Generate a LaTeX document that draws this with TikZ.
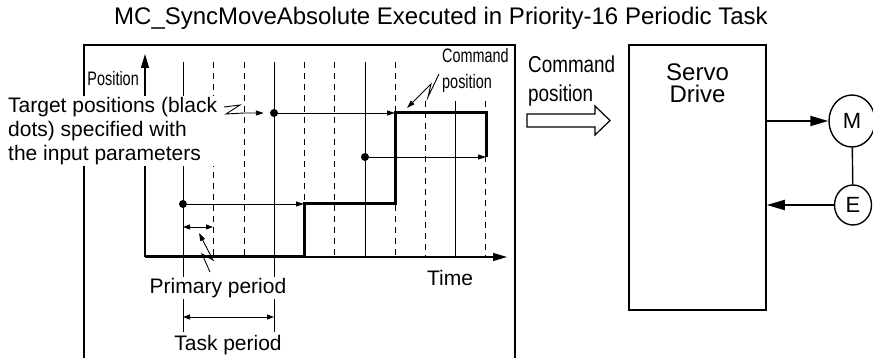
\documentclass[tikz,border=0pt]{standalone}
\usepackage{fontspec}
\setmainfont{Liberation Sans}
\newfontfamily\narrowfont[FakeStretch=0.74]{Liberation Sans}
\newfontfamily\semifont[FakeStretch=0.82]{Liberation Sans}
\usepackage{tikz}
\usetikzlibrary{arrows.meta,positioning,shapes.geometric}
\tikzset{
  thinar/.style={-{Triangle[length=8pt,width=5pt]},line width=0.9pt},
  dblar/.style={{Triangle[length=7pt,width=5pt]}-{Triangle[length=7pt,width=5pt]},line width=0.9pt},
  axis/.style={-{Triangle[length=14pt,width=8pt]},line width=1.3pt},
  bigar/.style={-{Triangle[length=18pt,width=10pt]},line width=1.8pt},
  frame/.style={line width=1.6pt},
  tickln/.style={line width=0.9pt},
  dashln/.style={line width=0.9pt,dash pattern=on 6pt off 5pt},
  cmdline/.style={line width=3pt},
  dot/.style={circle,fill,inner sep=0pt,minimum size=8pt},
  txt/.style={font=\fontsize{21}{24}\selectfont,inner sep=1pt},
  bigtxt/.style={font=\fontsize{24}{22}\selectfont,align=center,inner sep=0pt},
  smalltxt/.style={font=\narrowfont\fontsize{19.5}{22}\selectfont,inner sep=0pt},
  cmdtxt/.style={font=\semifont\fontsize{23}{26}\selectfont,inner sep=0pt},
  motor/.style={draw,ellipse,line width=1.4pt,inner sep=0pt,font=\fontsize{22}{24}\selectfont}
}

\begin{document}
\begin{tikzpicture}[x=1pt,y=-1pt]
\useasboundingbox (0,0) rectangle (873,358);
\clip (0,0) rectangle (873,358);
\node[bigtxt] (title) at (441,18) {MC\_SyncMoveAbsolute Executed in Priority-16 Periodic Task};
\draw[frame] (84,370) |- (515,45) -- (515,370);
% primary periods (dashed) and task periods (solid)
\foreach \x in {213,244,304,334,395} \draw[dashln] (\x,62) -- (\x,257);
\foreach \x in {425,485} \draw[dashln] (\x,101) -- (\x,257);
\draw[tickln] (365,62) -- (365,257);
\draw[tickln] (455,101) -- (455,257);
\foreach \x in {183,274} \draw[tickln] (\x,62) -- (\x,332);
\coordinate (o) at (145,257);
\draw[axis] (o) -- (145,54);
\draw[axis] (o) -- (507,257);
\draw[cmdline] (o) -- (304,257) -- (304,204) -- (395,204) -- (395,113) -- (486,113) -- (486,157);
\node[dot] (t1) at (274,113) {};
\node[dot] (t2) at (183,204) {};
\node[dot] (t3) at (365,157) {};
\coordinate (c1) at (395,113);
\coordinate (c2) at (304,204);
\coordinate (c3) at (486,157);
\draw[thinar] (t1) -- (c1);
\draw[thinar] (t2) -- (c2);
\draw[thinar] (t3) -- (c3);
\node[smalltxt,anchor=base east] (poslbl) at (139,86) {Position};
\node[txt,fill=white,align=left,anchor=west] (tgt) at (7,131) {Target positions (black\\dots) specified with\\the input parameters};
\draw[thinar,shorten >=6pt] (224,107) -- (240,105) -- (226,114) -- (244,113) -- (t1);
\node[smalltxt,anchor=base west] (cmd1) at (442,63) {Command};
\node[smalltxt,anchor=base west] (cmd2) at (442,89) {position};
\draw[thinar] (439,74) -- (428,97) -- (431,84) -- (407,108);
\coordinate (p1) at (183,227);
\coordinate (p2) at (213,227);
\draw[dblar] (p1) -- (p2);
\draw[thinar] (210,272) -- (202,254) -- (213,260) -- (199,233);
\node[txt,fill=white] (prim) at (218,288) {Primary period};
\coordinate (k1) at (183,317);
\coordinate (k2) at (274,317);
\draw[dblar] (k1) -- (k2);
\node[txt] (task) at (228,345) {Task period};
\node[txt] (time) at (450,278) {Time};
% servo side
\node[cmdtxt,anchor=base west] (cmdr1) at (528,73) {Command};
\node[cmdtxt,anchor=base west] (cmdr2) at (528,102) {position};
\draw[line width=1.2pt] (527,114) -- (595,114) -- (595,106) -- (610,120.5) -- (595,135) -- (595,127) -- (527,127) -- cycle;
\node[draw,line width=1.5pt,minimum width=137pt,minimum height=265pt] (servo) at (697.5,177.5) {};
\node[bigtxt,below=19pt of servo.north] (servolbl) {Servo\\Drive};
\node[motor,minimum width=46pt,minimum height=52pt] (M) at (852,121) {M};
\node[motor,minimum width=37pt,minimum height=40pt] (E) at (853,205) {E};
\draw[line width=1.4pt] (M) -- (E);
\draw[bigar] (servo.east |- M) -- (M);
\draw[bigar] (E) -- (E -| servo.east);
\end{tikzpicture}
\end{document}
